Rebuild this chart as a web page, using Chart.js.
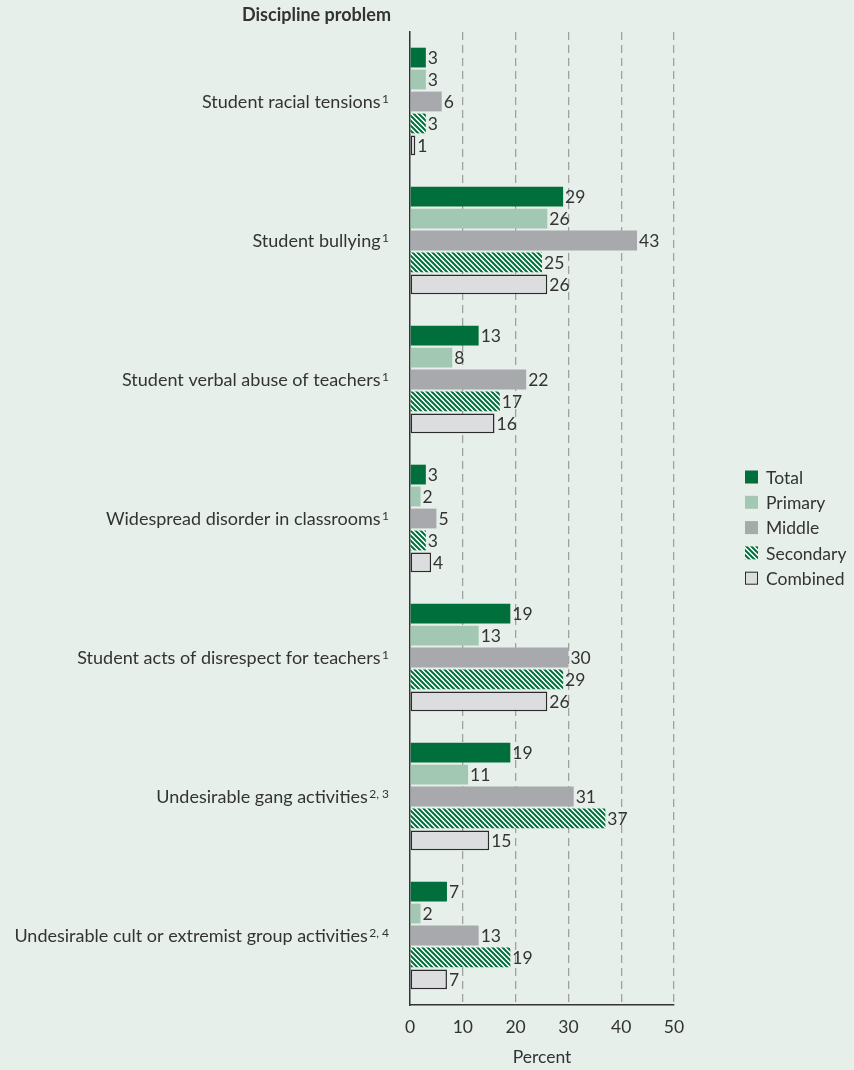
<!DOCTYPE html>
<html>
<head>
<meta charset="utf-8">
<script src="https://cdn.jsdelivr.net/npm/chart.js@4/dist/chart.umd.min.js"></script>
<style>
  html, body { margin: 0; padding: 0; background: #e7efea; }
  #wrap { width: 854px; height: 1070px; position: relative; }
</style>
</head>
<body>
<div id="wrap"><canvas id="c" width="854" height="1070"></canvas></div>
<script>
// ---- Data ----
const categories = [
  "Student racial tensions",
  "Student bullying",
  "Student verbal abuse of teachers",
  "Widespread disorder in classrooms",
  "Student acts of disrespect for teachers",
  "Undesirable gang activities",
  "Undesirable cult or extremist group activities"
];
const footnotes = ["1", "1", "1", "1", "1", "2, 3", "2, 4"];
const seriesNames = ["Total", "Primary", "Middle", "Secondary", "Combined"];
const totalValues     = [3, 29, 13, 3, 19, 19, 7];
const primaryValues   = [3, 26, 8, 2, 13, 11, 2];
const middleValues    = [6, 43, 22, 5, 30, 31, 13];
const secondaryValues = [3, 25, 17, 3, 29, 37, 19];
const combinedValues  = [1, 26, 16, 4, 26, 15, 7];
const xTicks = [0, 10, 20, 30, 40, 50];
const yAxisTitle = "Discipline problem";
const xAxisTitle = "Percent";

// ---- Styles ----
const FONT = "Lato, 'Open Sans', sans-serif";
const TEXT = "#333333";
const GREEN = "#006f3c";

function hatch() {
  const s = 5;
  const c = document.createElement("canvas");
  c.width = s; c.height = s;
  const x = c.getContext("2d");
  x.fillStyle = "#ffffff";
  x.fillRect(0, 0, s, s);
  x.strokeStyle = GREEN;
  x.lineWidth = 2;
  x.beginPath();
  x.moveTo(-s, -s); x.lineTo(2 * s, 2 * s);
  x.moveTo(-s, 0); x.lineTo(s, 2 * s);
  x.moveTo(0, -s); x.lineTo(2 * s, s);
  x.stroke();
  return x.createPattern(c, "repeat");
}
const hatchPattern = hatch();

const seriesStyle = [
  { backgroundColor: GREEN, borderColor: GREEN, borderWidth: 0 },
  { backgroundColor: "#a2c7b3", borderColor: "#a2c7b3", borderWidth: 0 },
  { backgroundColor: "#a8a9ac", borderColor: "#a8a9ac", borderWidth: 0 },
  { backgroundColor: hatchPattern, borderColor: GREEN, borderWidth: 0 },
  { backgroundColor: "#dcdddf", borderColor: "#2b2b2b", borderWidth: 1.5 }
];
const seriesValues = [totalValues, primaryValues, middleValues, secondaryValues, combinedValues];

const datasets = seriesNames.map((name, i) => Object.assign({
  label: name,
  data: seriesValues[i],
  categoryPercentage: 0.79,
  barPercentage: 0.9,
  borderSkipped: false
}, seriesStyle[i]));

// ---- Plugins ----
const bgPlugin = {
  id: "bg",
  beforeDraw(chart) {
    const ctx = chart.ctx;
    ctx.save();
    ctx.fillStyle = "#e7efea";
    ctx.fillRect(0, 0, chart.width, chart.height);
    ctx.restore();
  }
};

const valueLabels = {
  id: "valueLabels",
  afterDatasetsDraw(chart) {
    const ctx = chart.ctx;
    ctx.save();
    ctx.font = "17.5px " + FONT;
    ctx.fillStyle = TEXT;
    ctx.textAlign = "left";
    ctx.textBaseline = "middle";
    chart.data.datasets.forEach((ds, di) => {
      const meta = chart.getDatasetMeta(di);
      meta.data.forEach((bar, i) => {
        ctx.fillText(String(ds.data[i]), bar.x + 2, bar.y + 1);
      });
    });
    ctx.restore();
  }
};

const catLabels = {
  id: "catLabels",
  afterDraw(chart) {
    const ctx = chart.ctx;
    const ys = chart.scales.y;
    const right = 389;
    ctx.save();
    ctx.fillStyle = TEXT;
    ctx.textBaseline = "alphabetic";
    ctx.textAlign = "right";
    categories.forEach((label, i) => {
      const y = ys.getPixelForValue(i);
      ctx.font = "12px " + FONT;
      const sup = footnotes[i];
      const w = ctx.measureText(sup).width;
      ctx.fillText(sup, right, y + 1.5);
      ctx.font = "18px " + FONT;
      ctx.fillText(label, right - w - 1.5, y + 6.3);
    });
    // y-axis heading
    ctx.font = "bold 18px " + FONT;
    ctx.textAlign = "right";
    ctx.fillText(yAxisTitle, 391, 21);
    ctx.restore();
  }
};

const legendPlugin = {
  id: "customLegend",
  afterDraw(chart) {
    const ctx = chart.ctx;
    ctx.save();
    const x0 = 745, y0 = 477, step = 25.3, box = 13;
    ctx.textBaseline = "middle";
    ctx.textAlign = "left";
    ctx.font = "17.5px " + FONT;
    chart.data.datasets.forEach((ds, i) => {
      const y = y0 + i * step;
      ctx.fillStyle = ds.backgroundColor;
      ctx.fillRect(x0, y - box / 2, box, box);
      if (i === 4) {
        ctx.strokeStyle = ds.borderColor;
        ctx.lineWidth = 1;
        ctx.strokeRect(x0 + 0.5, y - box / 2 + 0.5, box - 1, box - 1);
      }
      ctx.fillStyle = TEXT;
      ctx.fillText(ds.label, x0 + 21, y + 1);
    });
    ctx.restore();
  }
};

new Chart(document.getElementById("c"), {
  type: "bar",
  data: { labels: categories, datasets },
  options: {
    indexAxis: "y",
    responsive: false,
    animation: false,
    devicePixelRatio: 1,
    layout: { padding: { left: 410, right: 180, top: 32, bottom: 3.5 } },
    plugins: { legend: { display: false }, tooltip: { enabled: false } },
    scales: {
      y: {
        type: "category",
        offset: true,
        ticks: { display: false },
        grid: { display: false, drawTicks: false },
        border: { display: true, color: "#333", width: 1.5 }
      },
      x: {
        type: "linear",
        min: xTicks[0],
        max: xTicks[xTicks.length - 1],
        afterBuildTicks(scale) { scale.ticks = xTicks.map(v => ({ value: v })); },
        ticks: { color: TEXT, font: { family: FONT, size: 17.5, lineHeight: 1.2 }, padding: 11.5 },
        grid: {
          drawTicks: false,
          color: (c) => (c.tick && c.tick.value === 0) ? "rgba(0,0,0,0)" : "#a0a0a0",
          lineWidth: 1.3
        },
        border: { display: true, color: "#333", width: 1.5, dash: [8, 5] },
        title: {
          display: true, text: xAxisTitle, color: TEXT,
          font: { family: FONT, size: 17.5, lineHeight: 1.0 }, padding: { top: 0, bottom: 0 }
        }
      }
    }
  },
  plugins: [bgPlugin, valueLabels, catLabels, legendPlugin]
});
</script>
</body>
</html>
